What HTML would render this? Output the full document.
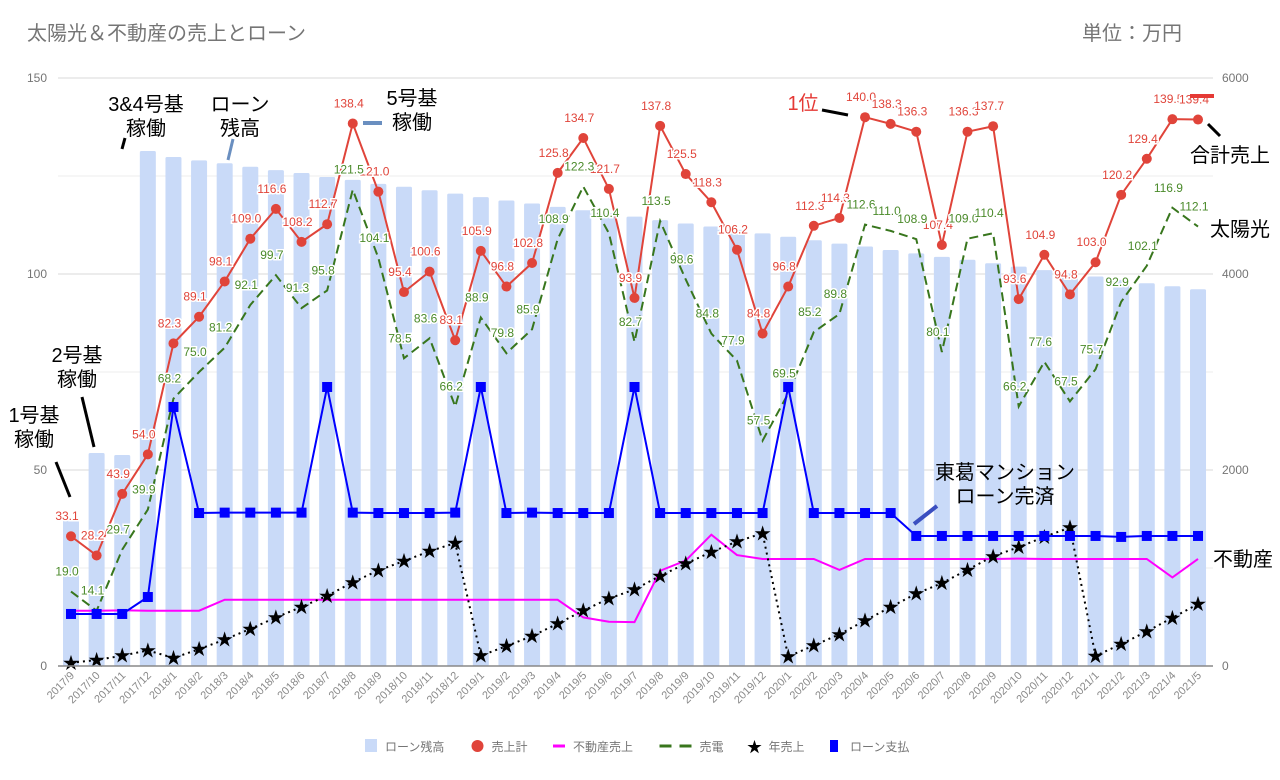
<!DOCTYPE html>
<html><head><meta charset="utf-8">
<style>
body{margin:0;background:#fff;width:1280px;height:775px;overflow:hidden;font-family:"Liberation Sans","Noto Sans CJK JP",sans-serif;}
svg text{font-family:"Liberation Sans","Noto Sans CJK JP",sans-serif;}
</style></head><body>
<svg id="chart" width="1280" height="775" xmlns="http://www.w3.org/2000/svg">
<text x="27" y="40" font-size="20" fill="#757575">太陽光＆不動産の売上とローン</text>
<text x="1182" y="40" font-size="20" fill="#757575" text-anchor="end">単位：万円</text>
<g id="grid"></g><g id="bars"></g><g id="lines"></g><g id="labels"></g><g id="axes"></g>
<g id="annot" font-size="20" fill="#000">
<text x="34" y="422" text-anchor="middle">1号基</text>
<text x="34" y="446" text-anchor="middle">稼働</text>
<line x1="56" y1="462" x2="70" y2="497" stroke="#000" stroke-width="3"/>
<text x="77" y="362" text-anchor="middle">2号基</text>
<text x="77" y="386" text-anchor="middle">稼働</text>
<line x1="82" y1="397" x2="94" y2="447" stroke="#000" stroke-width="3"/>
<text x="146" y="111" text-anchor="middle">3&amp;4号基</text>
<text x="146" y="135" text-anchor="middle">稼働</text>
<line x1="125" y1="138" x2="122" y2="149" stroke="#000" stroke-width="3"/>
<text x="240" y="111" text-anchor="middle">ローン</text>
<text x="240" y="135" text-anchor="middle">残高</text>
<line x1="233" y1="139" x2="228" y2="160" stroke="#6a8fc0" stroke-width="3"/>
<text x="412" y="105" text-anchor="middle">5号基</text>
<text x="412" y="129" text-anchor="middle">稼働</text>
<line x1="363" y1="123" x2="382" y2="123" stroke="#6a8fc0" stroke-width="4"/>
<text x="803" y="110" text-anchor="middle" fill="#e53935">1位</text>
<line x1="822" y1="110" x2="848" y2="115" stroke="#000" stroke-width="3"/>
<text x="1005" y="479" text-anchor="middle">東葛マンション</text>
<text x="1005" y="503" text-anchor="middle">ローン完済</text>
<line x1="914" y1="524" x2="937" y2="506" stroke="#3b4fc0" stroke-width="4"/>
<line x1="1190" y1="96" x2="1214" y2="96" stroke="#e53935" stroke-width="4"/>
<line x1="1208" y1="124" x2="1220" y2="136" stroke="#000" stroke-width="3"/>
<text x="1230" y="162" text-anchor="middle">合計売上</text>
<text x="1240" y="236" text-anchor="middle">太陽光</text>
<text x="1243" y="566" text-anchor="middle">不動産</text>
</g>
<g id="legend" font-size="12" fill="#757575"></g>
</svg>
<script>
const categories=["2017/9","2017/10","2017/11","2017/12","2018/1","2018/2","2018/3","2018/4","2018/5","2018/6","2018/7","2018/8","2018/9","2018/10","2018/11","2018/12","2019/1","2019/2","2019/3","2019/4","2019/5","2019/6","2019/7","2019/8","2019/9","2019/10","2019/11","2019/12","2020/1","2020/2","2020/3","2020/4","2020/5","2020/6","2020/7","2020/8","2020/9","2020/10","2020/11","2020/12","2021/1","2021/2","2021/3","2021/4","2021/5"];
const totalSales=[33.1,28.2,43.9,54.0,82.3,89.1,98.1,109.0,116.6,108.2,112.7,138.4,121.0,95.4,100.6,83.1,105.9,96.8,102.8,125.8,134.7,121.7,93.9,137.8,125.5,118.3,106.2,84.8,96.8,112.3,114.3,140.0,138.3,136.3,107.4,136.3,137.7,93.6,104.9,94.8,103.0,120.2,129.4,139.5,139.4];
const solarSales=[19.0,14.1,29.7,39.9,68.2,75.0,81.2,92.1,99.7,91.3,95.8,121.5,104.1,78.5,83.6,66.2,88.9,79.8,85.9,108.9,122.3,110.4,82.7,113.5,98.6,84.8,77.9,57.5,69.5,85.2,89.8,112.6,111.0,108.9,80.1,109.0,110.4,66.2,77.6,67.5,75.7,92.9,102.1,116.9,112.1];
const realEstate=[14.1,14.1,14.2,14.1,14.1,14.1,16.9,16.9,16.9,16.9,16.9,16.9,16.9,16.9,16.9,16.9,16.9,16.9,16.9,16.9,12.4,11.3,11.2,24.3,26.9,33.5,28.3,27.3,27.3,27.3,24.5,27.3,27.3,27.3,27.3,27.3,27.3,27.4,27.3,27.3,27.3,27.3,27.3,22.6,27.3];
const loanBalance=[1490,2173,2153,5255,5194,5160,5130,5095,5060,5030,4990,4960,4920,4890,4855,4820,4785,4750,4720,4685,4650,4620,4585,4550,4515,4485,4450,4415,4380,4345,4310,4280,4245,4210,4175,4145,4110,4075,4040,4005,3975,3940,3905,3875,3845];
const loanPayment=[531,531,531,704,2643,1561,1565,1565,1565,1565,2847,1565,1561,1561,1561,1565,2847,1561,1565,1561,1561,1561,2847,1561,1561,1561,1561,1561,2847,1561,1561,1561,1561,1327,1327,1327,1327,1327,1327,1327,1327,1317,1327,1327,1327];
const leftTicks=[0,50,100,150];
const rightTicks=[0,2000,4000,6000];
const legendNames=["ローン残高","売上計","不動産売上","売電","年売上","ローン支払"];

const NS="http://www.w3.org/2000/svg";
const X0=71,DX=25.614,Y0=666,YT=78;
const xs=i=>X0+i*DX;
const yl=v=>Y0-v/150*(Y0-YT);
const yr=v=>Y0-v/6000*(Y0-YT);
function mk(tag,attrs,parent){const e=document.createElementNS(NS,tag);for(const k in attrs)e.setAttribute(k,attrs[k]);document.getElementById(parent).appendChild(e);return e;}

for(let v=0;v<=150;v+=25){const l=mk('line',{x1:58,x2:1213,y1:yl(v),y2:yl(v),stroke:v%50===0?'#d9d9d9':'#ececec','stroke-width':1},'grid');

}
leftTicks.forEach(v=>{const t=mk('text',{x:47,y:yl(v)+4,'font-size':12,fill:'#757575','text-anchor':'end'},'axes');t.textContent=v;

});
rightTicks.forEach(v=>{const t=mk('text',{x:1222,y:yr(v)+4,'font-size':12,fill:'#757575'},'axes');t.textContent=v;

});
const base=mk('line',{x1:58,x2:1213,y1:Y0,y2:Y0,stroke:'#888','stroke-width':1.5},'axes');


categories.forEach((c,i)=>{const x=xs(i)+4,y=676;const t=mk('text',{x:x,y:y,'font-size':11,fill:'#8a8a8a','text-anchor':'end',transform:`rotate(-45 ${x} ${y})`},'axes');t.textContent=c;

});

loanBalance.forEach((v,i)=>{const r=mk('rect',{x:xs(i)-8,y:yr(v),width:16,height:Y0-yr(v),fill:'#c9daf8',rx:1.5},'bars');

});

function poly(vals,yf,attrs,name){const p=mk('polyline',Object.assign({points:vals.map((v,i)=>xs(i)+','+yf(v)).join(' '),fill:'none'},attrs),'lines');

}
poly(realEstate,yl,{stroke:'#ff00ff','stroke-width':2},'real-estate-line');
poly(solarSales,yl,{stroke:'#38761d','stroke-width':2,'stroke-dasharray':'9,5'},'solar-line');
const annual=[];let acc=0;categories.forEach((c,i)=>{if(c.endsWith('/1'))acc=0;acc+=totalSales[i];annual.push(acc);});
poly(annual,yr,{stroke:'#000','stroke-width':2,'stroke-dasharray':'2,4'},'annual-sales-line');
annual.forEach((v,i)=>{const t=mk('text',{x:xs(i),y:yr(v)+6,'font-size':17,'text-anchor':'middle',fill:'#000'},'lines');t.textContent='★';

});
poly(loanPayment,yr,{stroke:'#0000ff','stroke-width':2},'loan-payment-line');
loanPayment.forEach((v,i)=>{const r=mk('rect',{x:xs(i)-5,y:yr(v)-5,width:10,height:10,fill:'#0000ff'},'lines');

});
poly(totalSales,yl,{stroke:'#e0443a','stroke-width':2},'total-sales-line');
totalSales.forEach((v,i)=>{const c=mk('circle',{cx:xs(i),cy:yl(v),r:5,fill:'#e0443a'},'lines');

});

totalSales.forEach((v,i)=>{const t=mk('text',{x:xs(i)-4,y:yl(v)-16,'font-size':12,fill:'#e0443a','text-anchor':'middle',stroke:'#fff','stroke-width':3,'paint-order':'stroke'},'labels');t.textContent=v.toFixed(1);

});
solarSales.forEach((v,i)=>{const t=mk('text',{x:xs(i)-4,y:yl(v)-16,'font-size':12,fill:'#4a8a2a','text-anchor':'middle',stroke:'#fff','stroke-width':3,'paint-order':'stroke'},'labels');t.textContent=v.toFixed(1);

});

let lx=365;const ly=746;
legendNames.forEach((n,k)=>{
 let sw;
 if(k===0)sw=mk('rect',{x:lx,y:ly-7,width:12,height:13,fill:'#c9daf8'},'legend');
 if(k===1)sw=mk('circle',{cx:lx+6,cy:ly,r:6,fill:'#e0443a'},'legend');
 if(k===2)sw=mk('line',{x1:lx,x2:lx+12,y1:ly,y2:ly,stroke:'#ff00ff','stroke-width':3},'legend');
 if(k===3)sw=mk('line',{x1:lx,x2:lx+32,y1:ly,y2:ly,stroke:'#38761d','stroke-width':3,'stroke-dasharray':'12,8'},'legend');
 if(k===4){sw=mk('text',{x:lx+6,y:ly+6,'font-size':15,fill:'#000','text-anchor':'middle'},'legend');sw.textContent='★';}
 if(k===5)sw=mk('rect',{x:lx,y:ly-6,width:8,height:12,fill:'#0000ff'},'legend');
 
 
 const w=k===3?32:12;
 const t=mk('text',{x:lx+w+8,y:ly+5,'font-size':12,fill:'#757575'},'legend');t.textContent=n;
 
 
 lx+=w+8+n.length*12.5+24;
});
</script>
</body></html>
